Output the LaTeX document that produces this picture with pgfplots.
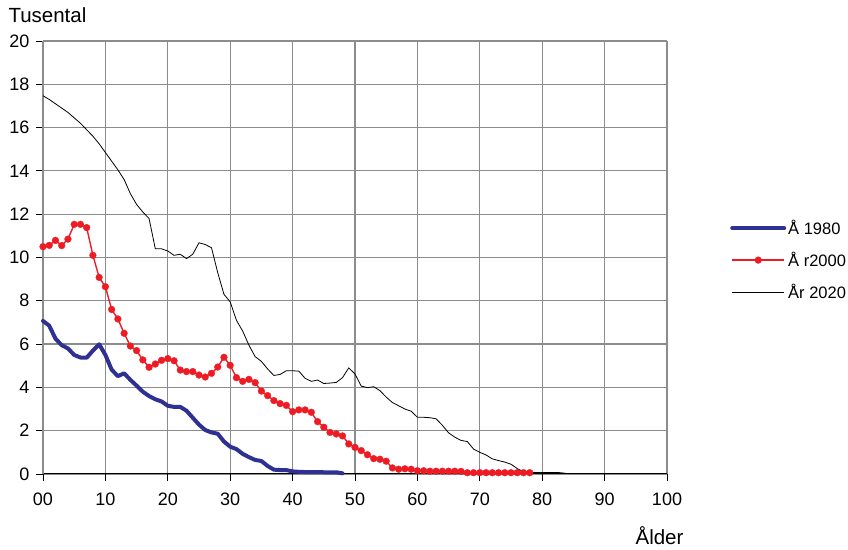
\documentclass[border=0pt]{standalone}
\usepackage{pgfplots}
\pgfplotsset{compat=1.18}
\usepackage{pgfplotstable}
\usepackage{fontspec}
\setmainfont{Liberation Sans}
\definecolor{cblue}{HTML}{2E3192}
\definecolor{cred}{HTML}{ED1C24}
\definecolor{cgrid}{HTML}{8C8C8C}

\pgfplotstableread{
age val
0 7.07
1 6.85
2 6.25
3 5.95
4 5.80
5 5.50
6 5.38
7 5.37
8 5.70
9 5.99
10 5.50
11 4.82
12 4.52
13 4.65
14 4.35
15 4.08
16 3.80
17 3.60
18 3.45
19 3.35
20 3.15
21 3.10
22 3.10
23 2.92
24 2.60
25 2.28
26 2.03
27 1.92
28 1.86
29 1.50
30 1.26
31 1.15
32 0.93
33 0.78
34 0.65
35 0.60
36 0.37
37 0.20
38 0.18
39 0.18
40 0.12
41 0.10
42 0.09
43 0.09
44 0.09
45 0.08
46 0.08
47 0.08
48 0.03
}\tA

\pgfplotstableread{
age val
0 10.50
1 10.56
2 10.79
3 10.55
4 10.85
5 11.53
6 11.53
7 11.38
8 10.10
9 9.08
10 8.65
11 7.60
12 7.16
13 6.50
14 5.91
15 5.70
16 5.27
17 4.93
18 5.08
19 5.25
20 5.33
21 5.23
22 4.80
23 4.73
24 4.73
25 4.57
26 4.48
27 4.65
28 4.94
29 5.39
30 5.02
31 4.45
32 4.28
33 4.37
34 4.22
35 3.83
36 3.62
37 3.39
38 3.25
39 3.17
40 2.88
41 2.96
42 2.96
43 2.85
44 2.42
45 2.16
46 1.92
47 1.85
48 1.76
49 1.39
50 1.23
51 1.08
52 0.89
53 0.71
54 0.68
55 0.59
56 0.28
57 0.22
58 0.24
59 0.22
60 0.15
61 0.15
62 0.13
63 0.13
64 0.13
65 0.13
66 0.13
67 0.12
68 0.06
69 0.06
70 0.06
71 0.06
72 0.06
73 0.06
74 0.06
75 0.06
76 0.06
77 0.06
78 0.06
}\tB

\pgfplotstableread{
age val
0 17.47
1 17.30
2 17.10
3 16.90
4 16.70
5 16.45
6 16.20
7 15.90
8 15.60
9 15.25
10 14.85
11 14.45
12 14.05
13 13.60
14 12.95
15 12.45
16 12.10
17 11.80
18 10.40
19 10.40
20 10.30
21 10.10
22 10.15
23 9.95
24 10.15
25 10.68
26 10.60
27 10.45
28 9.30
29 8.30
30 7.95
31 7.10
32 6.60
33 5.95
34 5.42
35 5.20
36 4.85
37 4.55
38 4.60
39 4.77
40 4.77
41 4.75
42 4.42
43 4.28
44 4.34
45 4.18
46 4.20
47 4.23
48 4.45
49 4.90
50 4.62
51 4.06
52 3.99
53 4.03
54 3.85
55 3.55
56 3.30
57 3.15
58 3.00
59 2.90
60 2.62
61 2.62
62 2.60
63 2.55
64 2.25
65 1.90
66 1.70
67 1.55
68 1.50
69 1.15
70 1.00
71 0.88
72 0.70
73 0.62
74 0.55
75 0.45
76 0.25
77 0.10
78 0.07
79 0.07
80 0.07
81 0.07
82 0.07
83 0.06
84 0.02
}\tC

\begin{document}
\begin{tikzpicture}
\begin{axis}[
  scale only axis,
  width=624pt, height=433pt,
  xmin=0, xmax=100, ymin=0, ymax=20,
  xtick={0,10,...,100},
  xticklabels={00,10,20,30,40,50,60,70,80,90,100},
  ytick={0,2,...,20},
  axis x line*=bottom, axis y line*=left,
  x axis line style={-, black, line width=1pt},
  y axis line style={-, cgrid, line width=1.3pt},
  grid=major,
  major grid style={cgrid, line width=1.2pt},
  tick align=outside,
  major tick length=7pt,
  tick style={black, line width=0.8pt},
  tick label style={font=\fontsize{18}{21}\selectfont},
  /pgf/number format/assume math mode=true,
  xticklabel style={yshift=-8pt},
  yticklabel style={xshift=-3pt},
  clip=false,
  legend style={at={([xshift=63pt]axis description cs:1,0.494)}, anchor=west,
    draw=none, fill=none, inner sep=0pt, font=\fontsize{16.5}{20}\selectfont,
    row sep=12pt, cells={anchor=west}},
  legend cell align=left,
  legend image code/.code={\draw[mark repeat=2,mark phase=2,#1] plot coordinates {(0pt,0pt) (26pt,0pt) (52pt,0pt)};},
]
\addplot[cblue, line width=4pt, line join=round, line cap=round] table[x=age,y=val]{\tA};
\addlegendentry{Å 1980}
\addplot[cred, line width=1.4pt, mark=*, mark size=3.4pt, mark options={solid, fill=cred, draw=cred, line width=0.3pt}] table[x=age,y=val]{\tB};
\addlegendentry{Å r2000}
\addplot[black, line width=0.8pt] table[x=age,y=val]{\tC};
\addlegendentry{År 2020}
\node[anchor=base west, font=\fontsize{20.5}{24}\selectfont] at ([xshift=-38pt,yshift=18pt]rel axis cs:0,1) {Tusental};
\node[anchor=base east, font=\fontsize{20.5}{24}\selectfont] at ([xshift=20pt,yshift=-71pt]rel axis cs:1,0) {Ålder};
\path ([xshift=-43pt,yshift=-76pt]rel axis cs:0,0) rectangle ([xshift=181pt,yshift=41pt]rel axis cs:1,1);
\end{axis}
\end{tikzpicture}
\end{document}
